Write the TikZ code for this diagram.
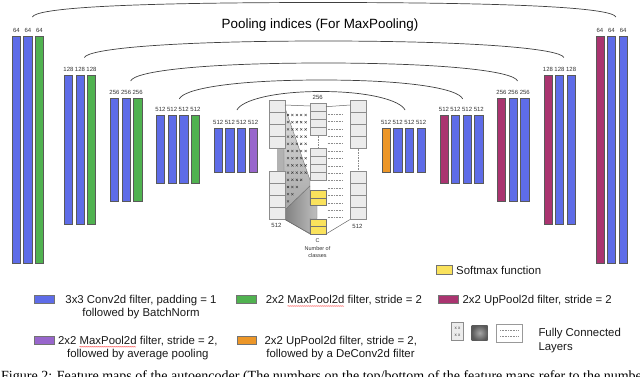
\documentclass[tikz,border=0pt]{standalone}
\usepackage{fontspec}
\setmainfont{Liberation Sans}
\newfontfamily\capfont{Liberation Serif}
\usetikzlibrary{positioning,calc,shadings,decorations.pathmorphing}
\definecolor{cblue}{RGB}{94,108,232}
\definecolor{cgreen}{RGB}{80,178,80}
\definecolor{cpurple}{RGB}{152,102,204}
\definecolor{corange}{RGB}{236,150,40}
\definecolor{cmag}{RGB}{170,52,112}
\definecolor{cyel}{RGB}{250,226,92}
\definecolor{cbox}{RGB}{236,236,236}
\begin{document}
\begin{tikzpicture}[x=1pt,y=-1pt,
  bar/.style={draw=black!65, line width=0.5pt, fill=#1, minimum width=8.4pt, inner sep=0pt, anchor=north west},
  lbl/.style={font=\fontsize{6}{7}\selectfont, text=black!80, inner sep=0pt},
  clbl/.style={font=\fontsize{5.5}{6.5}\selectfont, text=black!80, inner sep=0pt},
  fc/.style={draw=black!45, line width=0.5pt, fill=cbox, minimum width=15.5pt, inner sep=0pt, anchor=north west},
  ybox/.style={draw=black!55, line width=0.5pt, fill=cyel, minimum width=15.5pt, minimum height=7.5pt, inner sep=0pt, anchor=north west},
  swatch/.style={draw=black!55, line width=0.5pt, fill=#1},
  leg/.style={font=\fontsize{11.4}{13.4}\selectfont, text=black!90, inner sep=0pt},
  arcline/.style={draw=black!75, line width=0.7pt},
  conn/.style={draw=black!60, line width=0.5pt},
  spell/.style={draw=red!75, line width=0.35pt, decorate, decoration={snake, segment length=2pt, amplitude=0.45pt}}
]
\useasboundingbox (0,0) rectangle (640,376);

% ---------- bars ----------
\foreach \n/\x/\t/\h/\c/\l in {
 e11/12/36/226.5/cblue/64, e12/23.4/36/226.5/cblue/64, e13/35/36/226.5/cgreen/64,
 e21/64/75/149.3/cblue/128, e22/75.5/75/149.3/cblue/128, e23/87/75/149.3/cgreen/128,
 e31/110/98/103.3/cblue/256, e32/121.7/98/103.3/cblue/256, e33/133.2/98/103.3/cgreen/256,
 e41/156/115/68.3/cblue/512, e42/167.7/115/68.3/cblue/512, e43/179.3/115/68.3/cblue/512, e44/191/115/68.3/cgreen/512,
 e51/213.8/127.7/44/cblue/512, e52/225.4/127.7/44/cblue/512, e53/237/127.7/44/cblue/512, e54/248.7/127.7/44/cpurple/512,
 d51/381.7/127.7/44/corange/512, d52/393.3/127.7/44/cblue/512, d53/405/127.7/44/cblue/512, d54/416.7/127.7/44/cblue/512,
 d41/439.5/115/68.3/cmag/512, d42/451/115/68.3/cblue/512, d43/462.7/115/68.3/cblue/512, d44/474.3/115/68.3/cblue/512,
 d31/497/98/103.3/cmag/256, d32/508.7/98/103.3/cblue/256, d33/520.3/98/103.3/cblue/256,
 d21/543.5/75/149.3/cmag/128, d22/555/75/149.3/cblue/128, d23/566.7/75/149.3/cblue/128,
 d11/595.5/36/226.5/cmag/64, d12/607/36/226.5/cblue/64, d13/618.7/36/226.5/cblue/64}
{\node[bar=\c, minimum height=\h pt] (\n) at (\x,\t) {};
 \node[lbl, above=3pt of \n] (\n-t) {\l};}

% ---------- pooling-index arcs ----------
\node[font=\fontsize{13.4}{15}\selectfont, inner sep=0pt, anchor=base] (title) at (320,28.3) {Pooling indices (For MaxPooling)};
\coordinate (a1l) at ($(e12.north east)+(0,-19)$);
\coordinate (a1r) at ($(d12.north east)+(0,-19)$);
\coordinate (a1m) at (323,2.5);
\coordinate (a2l) at ($(e22.north east)+(0,-17.5)$);
\coordinate (a2r) at ($(d22.north east)+(0,-17.5)$);
\coordinate (a2m) at (323.5,41);
\coordinate (a3l) at ($(e32.north east)+(0,-17)$);
\coordinate (a3r) at ($(d32.north east)+(0,-17)$);
\coordinate (a3m) at (323.4,63);
\coordinate (a4l) at ($(e43.north west)+(0,-16)$);
\coordinate (a4r) at ($(d43.north west)+(0,-16)$);
\coordinate (a4m) at (321.7,80);
\coordinate (a5l) at ($(e53.north west)+(0,-17.7)$);
\coordinate (a5r) at ($(d53.north west)+(0,-17.7)$);
\coordinate (a5m) at (321,91.5);
\draw[arcline] (a1l) .. controls +(4,-9) and +(-200,0) .. (a1m) .. controls +(200,0) and +(-4,-9) .. (a1r);
\draw[arcline] (a2l) .. controls +(4,-9) and +(-150,0) .. (a2m) .. controls +(150,0) and +(-4,-9) .. (a2r);
\draw[arcline] (a3l) .. controls +(4,-10) and +(-120,0) .. (a3m) .. controls +(120,0) and +(-4,-10) .. (a3r);
\draw[arcline] (a4l) .. controls +(4,-10) and +(-90,0) .. (a4m) .. controls +(90,0) and +(-4,-10) .. (a4r);
\draw[arcline] (a5l) .. controls +(4,-9) and +(-50,0) .. (a5m) .. controls +(50,0) and +(-4,-9) .. (a5r);

% ---------- centre: fully connected part ----------
\fill[black!30] (277,148) rectangle (284,171);
\shade[top color=black!12, bottom color=black!35, draw=black!55, line width=0.4pt]
  (284,105) -- (310,180) -- (310,186) -- (284,211) -- cycle;
\shade[left color=black!50, right color=black!25, draw=black!55, line width=0.4pt]
  (284,211) -- (310,186) -- (310,205) -- (317,205) -- (317,218.5) -- (310,218.5) -- (310,233.5) -- (284,219) -- cycle;
\foreach \r/\k in {0/5,1/5,2/5,3/5,4/5,5/5,6/5,7/5,8/5,9/4,10/3,11/2,12/1}{
  \foreach \j in {1,...,\k}{
    \pgfmathsetmacro{\cx}{288+(\j-1)*4.4}
    \pgfmathsetmacro{\cy}{115+\r*7.2}
    \draw[black!75, line width=0.4pt] (\cx-1.1,\cy-1.1) -- (\cx+1.1,\cy+1.1) (\cx-1.1,\cy+1.1) -- (\cx+1.1,\cy-1.1);
  }}
\foreach \y in {114,121.4,...,218}
  \draw[black!45, line width=0.4pt, dash pattern=on 0.8pt off 0.8pt] (327.5,\y) -- (342.5,\y);
\foreach \i/\y in {1/100,2/112,3/124,4/136,5/171,6/183,7/195,8/207}
  \node[fc, minimum height=12pt] (L\i) at (269,\y) {};
\foreach \i/\y in {1/103,2/111,3/119,4/127,5/148,6/156,7/164,8/172}
  \node[fc, minimum height=8pt] (M\i) at (310,\y) {};
\foreach \i/\y in {1/190,2/197.5,3/218.5,4/226}
  \node[ybox] (Y\i) at (310,\y) {};
\foreach \i/\y in {1/100,2/112,3/124,4/136,5/171,6/183,7/195,8/207}
  \node[fc, minimum height=12pt] (R\i) at (350,\y) {};
\draw[conn] ($(L1.north east)+(0,5)$) -- ($(M1.north west)+(0,3)$);
\draw[conn] ($(M1.north east)+(0,3.7)$) -- ($(R1.north west)+(0,5)$);
\draw[conn] (L8.south east) -- (Y4.south west);
\draw[conn] (Y4.south east) -- (R8.south west);
\draw[black!45, line width=0.5pt, dash pattern=on 0.8pt off 0.8pt] (M4.south) -- (M5.north);
\draw[black!45, line width=0.5pt, dash pattern=on 0.8pt off 0.8pt] (R4.south) -- (R5.north);
\node[lbl] (t256) at (317.75,97.5) {256};
\node[lbl] (tl512) at (276.5,225.5) {512};
\node[lbl] (tr512) at (357.5,226.5) {512};
\node[clbl] (tc) at (317.5,241) {C};
\node[clbl] (tn) at (317.5,248.5) {Number of};
\node[clbl] (tcl) at (317.5,255.5) {classes};

% ---------- legend ----------
\draw[swatch=cyel] (436.7,265) rectangle (452.7,274);
\node[leg, anchor=base west] (lsm) at (456,274) {Softmax function};

\draw[swatch=cblue] (34.3,295) rectangle (54,303.3);
\node[leg, anchor=base] (l1a) at (141,303.3) {3x3 Conv2d filter, padding = 1};
\node[leg, anchor=base] (l1b) at (141,316.7) {followed by BatchNorm};

\draw[swatch=cgreen] (236.7,295) rectangle (256,303.3);
\node[leg, anchor=base west] (l2) at (265.7,303.3) {2x2 MaxPool2d filter, stride = 2};
\draw[spell] (287.5,306) -- (344,306);

\draw[swatch=cmag] (438.3,295) rectangle (458.3,303.3);
\node[leg, anchor=base west] (l3) at (462.3,303.3) {2x2 UpPool2d filter, stride = 2};

\draw[swatch=cpurple] (34.3,336) rectangle (54,344);
\node[leg, anchor=base] (l4a) at (137.8,344) {2x2 MaxPool2d filter, stride = 2,};
\node[leg, anchor=base] (l4b) at (137.8,357.4) {followed by average pooling};
\draw[spell] (79.5,346.7) -- (136,346.7);

\draw[swatch=corange] (237.3,336) rectangle (256.7,344);
\node[leg, anchor=base] (l5a) at (340.8,344) {2x2 UpPool2d filter, stride = 2,};
\node[leg, anchor=base] (l5b) at (340.5,357.4) {followed by a DeConv2d filter};

\draw[draw=black!45, line width=0.5pt, fill=cbox] (451.7,322.7) rectangle (463.3,340.7);
\node[font=\fontsize{4.5}{5}\selectfont, inner sep=0pt, text=black!75] (ix1) at (457.5,328.5) {x x};
\node[font=\fontsize{4.5}{5}\selectfont, inner sep=0pt, text=black!75] (ix2) at (457.5,335) {x x};
\shade[inner color=black!35, outer color=black!65] (471.7,325) rectangle (487.7,340.7);
\draw[draw=black!40, line width=0.5pt, fill=white] (496.7,324) rectangle (522.3,342);
\draw[black!45, line width=0.4pt, dash pattern=on 0.8pt off 0.8pt] (500,330.5) -- (519,330.5);
\draw[black!45, line width=0.4pt, dash pattern=on 0.8pt off 0.8pt] (500,336.5) -- (519,336.5);
\node[leg, anchor=base west] (l7a) at (538.3,336.7) {Fully Connected};
\node[leg, anchor=base west] (l7b) at (538.3,350.7) {Layers};

% ---------- cut-off caption (the reference shows only its upper part) ----------
\begin{scope}
\clip (0,0) rectangle (640,376);
\node[font=\capfont\fontsize{14}{16}\selectfont, inner sep=0pt, anchor=base west] (cap) at (1,380.5)
  {Figure 2: Feature maps of the autoencoder (The numbers on the top/bottom of the feature maps refer to the number of};
\end{scope}
\end{tikzpicture}
\end{document}
